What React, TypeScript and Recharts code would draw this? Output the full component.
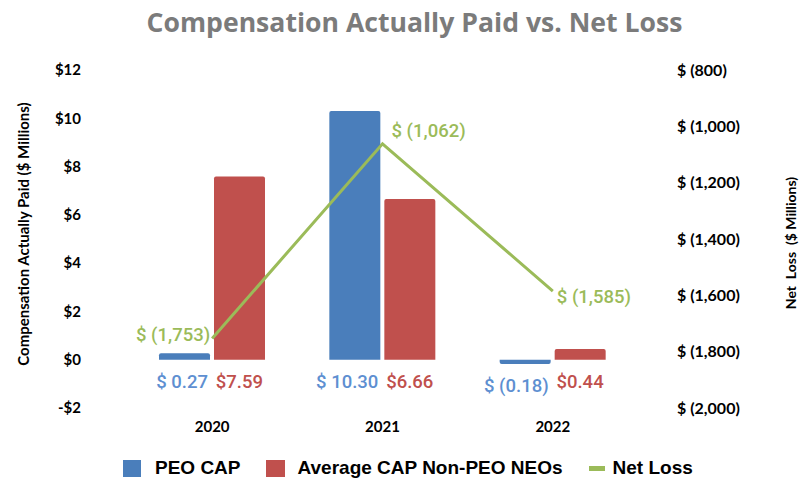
import React from "react";
import {
  ComposedChart,
  Bar,
  Line,
  XAxis,
  YAxis,
  LabelList,
} from "recharts";

const years = ["2020", "2021", "2022"];
const peoCap = [0.27, 10.3, -0.18];
const avgCap = [7.59, 6.66, 0.44];
const netLoss = [-1753, -1062, -1585];
const leftTicks = [-2, 0, 2, 4, 6, 8, 10, 12];
const rightTicks = [-2000, -1800, -1600, -1400, -1200, -1000, -800];

const data = years.map((y, i) => ({
  year: y,
  peo: peoCap[i],
  avg: avgCap[i],
  net: netLoss[i],
}));

const BLUE = "#4A7EBB";
const BLUE_TXT = "#5E8FD1";
const RED = "#C0504D";
const GREEN = "#9BBB59";
const FONT = "Lato, 'Open Sans', sans-serif";
const LABEL_FONT = "Roboto, sans-serif";

const fmtCap = (v: number) =>
  v < 0 ? `$ (${Math.abs(v).toFixed(2)})` : `$ ${v.toFixed(2)}`;
const fmtAvg = (v: number) => `$${v.toFixed(2)}`;
const fmtLeft = (v: number) => (v < 0 ? `-$${-v}` : `$${v}`);
const fmtRight = (v: number) => `$ (${Math.abs(v).toLocaleString("en-US")})`;

const makeBarLabel = (color: string, fmt: (v: number) => string) => (p: any) => {
  const { x, y, width, height, value } = p;
  const base = Math.max(Number(y), Number(y) + Number(height));
  return (
    <text
      x={Number(x) + Number(width) - 2}
      y={base + 22}
      textAnchor="end"
      dominantBaseline="central"
      fill={color}
      fontFamily={LABEL_FONT}
      fontWeight={500}
      fontSize={18.5}
    >
      {fmt(Number(value))}
    </text>
  );
};

const lineLabel = (p: any) => {
  const { x, y, value, index } = p;
  const txt = fmtRight(Number(value));
  let tx = Number(x);
  let ty = Number(y);
  let anchor: "start" | "end" = "start";
  if (index === 0) {
    tx -= 2;
    ty -= 3;
    anchor = "end";
  } else if (index === 1) {
    tx += 9;
    ty -= 13;
  } else {
    tx += 4;
    ty += 6;
  }
  return (
    <text
      x={tx}
      y={ty}
      textAnchor={anchor}
      dominantBaseline="central"
      fill={GREEN}
      fontFamily={LABEL_FONT}
      fontWeight={500}
      fontSize={18.5}
    >
      {txt}
    </text>
  );
};

const axisTitle = (text: string, cx: number, cy: number, size: number) => () =>
  (
    <text
      x={cx}
      y={cy}
      transform={`rotate(-90 ${cx} ${cy})`}
      textAnchor="middle"
      dominantBaseline="central"
      fontFamily={FONT}
      fontWeight={700}
      fontSize={size}
      fill="#000"
      style={{ whiteSpace: "pre" }}
      xmlSpace="preserve"
    >
      {text}
    </text>
  );

const leftTickStyle = { fontFamily: FONT, fontWeight: 700, fontSize: 15, fill: "#000" };
const rightTickStyle = { fontFamily: FONT, fontWeight: 700, fontSize: 16, fill: "#000" };

export default function App() {
  return (
    <div style={{ position: "absolute", left: 0, top: 0, width: 799, height: 480, background: "#fff" }}>
      <div
        style={{
          position: "absolute",
          left: 15,
          top: 4,
          width: 799,
          textAlign: "center",
          fontFamily: "'Open Sans', sans-serif",
          fontWeight: 700,
          fontSize: 26.6,
          color: "#7B7B7B",
          lineHeight: "36px",
          whiteSpace: "nowrap",
        }}
      >
        Compensation Actually Paid vs. Net Loss
      </div>
      <ComposedChart
        width={799}
        height={480}
        data={data}
        margin={{ top: 70, right: 0, bottom: 0, left: 0 }}
        barGap={4}
      >
        <XAxis
          dataKey="year"
          axisLine={false}
          tickLine={false}
          tickSize={0}
          tickMargin={13}
          height={72}
          tick={leftTickStyle}
        />
        <YAxis
          yAxisId="left"
          domain={[-2, 12]}
          ticks={leftTicks}
          tickFormatter={fmtLeft}
          axisLine={false}
          tickLine={false}
          tickSize={0}
          tickMargin={46}
          width={127}
          tick={leftTickStyle}
          interval={0}
          label={{ content: axisTitle("Compensation Actually Paid ($ Millions)", 23, 234, 15) } as any}
        />
        <YAxis
          yAxisId="right"
          orientation="right"
          domain={[-2000, -800]}
          ticks={rightTicks}
          tickFormatter={fmtRight}
          axisLine={false}
          tickLine={false}
          tickSize={0}
          tickMargin={39}
          width={161}
          tick={rightTickStyle}
          interval={0}
          label={{ content: axisTitle("Net  Loss  ($ Millions)", 790, 243, 14) } as any}
        />
        <Bar yAxisId="left" dataKey="peo" fill={BLUE} barSize={51} radius={[2, 2, 0, 0]} isAnimationActive={false}>
          <LabelList dataKey="peo" content={makeBarLabel(BLUE_TXT, fmtCap)} />
        </Bar>
        <Bar yAxisId="left" dataKey="avg" fill={RED} barSize={51} radius={[2, 2, 0, 0]} isAnimationActive={false}>
          <LabelList dataKey="avg" content={makeBarLabel(RED, fmtAvg)} />
        </Bar>
        <Line
          yAxisId="right"
          dataKey="net"
          type="linear"
          stroke={GREEN}
          strokeWidth={3}
          dot={false}
          isAnimationActive={false}
        >
          <LabelList dataKey="net" content={lineLabel} />
        </Line>
      </ComposedChart>
      <div
        style={{
          position: "absolute",
          left: 123,
          top: 457,
          display: "flex",
          alignItems: "center",
          fontFamily: "'Liberation Sans', Arial, sans-serif",
          fontWeight: 700,
          fontSize: 19,
          color: "#000",
          whiteSpace: "nowrap",
        }}
      >
        <span style={{ display: "inline-block", width: 18, height: 17, background: BLUE, marginRight: 14 }} />
        <span style={{ marginRight: 25 }}>PEO CAP</span>
        <span style={{ display: "inline-block", width: 19, height: 17, background: RED, marginRight: 13 }} />
        <span style={{ marginRight: 26 }}>Average CAP Non-PEO NEOs</span>
        <span style={{ display: "inline-block", width: 16, height: 5, background: GREEN, marginRight: 8 }} />
        <span>Net Loss</span>
      </div>
    </div>
  );
}
